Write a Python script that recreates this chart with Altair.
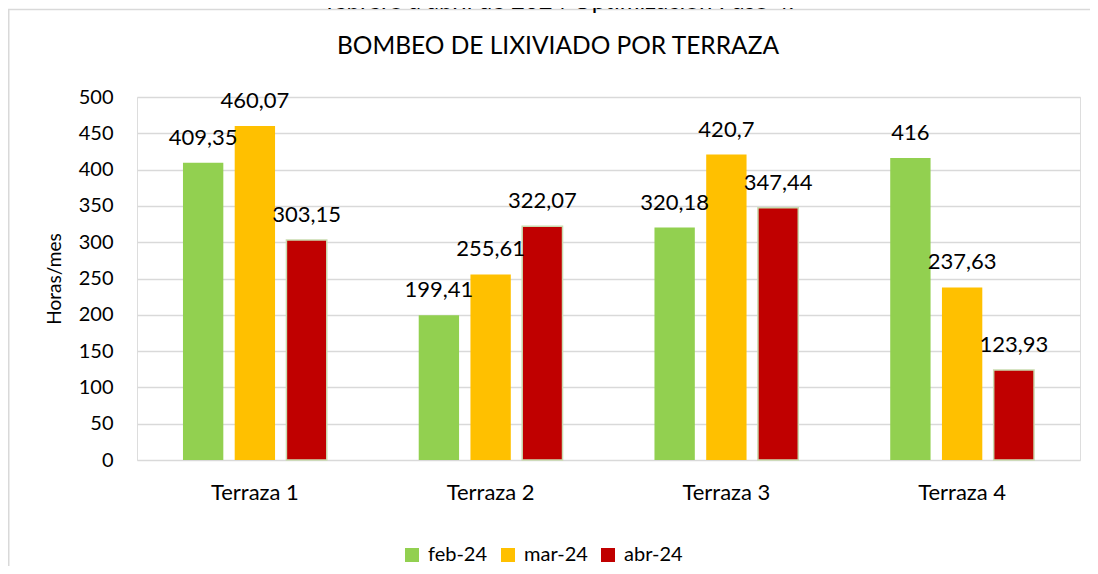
import altair as alt
import pandas as pd

terrazas = ["Terraza 1", "Terraza 2", "Terraza 3", "Terraza 4"]
meses = ["feb-24", "mar-24", "abr-24"]
feb = [409.35, 199.41, 320.18, 416]
mar = [460.07, 255.61, 420.7, 237.63]
abr = [303.15, 322.07, 347.44, 123.93]
colores = ["#92d050", "#ffc000", "#c00000"]
y_ticks = list(range(0, 501, 50))
titulo = "BOMBEO DE LIXIVIADO POR TERRAZA"
subtitulo = "febrero a abril de 2024 Optimización Paso 4."
eje_y = "Horas/mes"

rows = []
for mes, serie in zip(meses, [feb, mar, abr]):
    for t, v in zip(terrazas, serie):
        rows.append({"Terraza": t, "Mes": mes, "Horas": v,
                     "Etiqueta": f"{v:g}".replace(".", ",")})
df = pd.DataFrame(rows)

W, H = 943, 363
PL, PT, PR, PB = 129, 89, 10, 106
FONT = "Lato"

x = alt.X("Terraza:N", sort=terrazas, title=None,
          scale=alt.Scale(paddingInner=0.39, paddingOuter=0.195),
          axis=alt.Axis(labelAngle=0, labelFontSize=22, labelPadding=22, ticks=False,
                        domain=False, labelColor="#000", labelFont=FONT))
xo = alt.XOffset("Mes:N", sort=meses, scale=alt.Scale(paddingInner=0.22, paddingOuter=0))
y = alt.Y("Horas:Q", scale=alt.Scale(domain=[0, 500], nice=False),
          axis=alt.Axis(values=y_ticks, title=eje_y, titleFontSize=19, titleFont=FONT,
                        titleFontWeight="normal", titleColor="#000", titlePadding=14,
                        labelFontSize=20, labelFont=FONT, labelColor="#000", labelPadding=24,
                        ticks=False, domain=False, grid=True, gridColor="#d9d9d9",
                        gridWidth=1.6))

base = alt.Chart(df)

bars = base.mark_bar(strokeWidth=1.5).encode(
    x=x, xOffset=xo, y=y,
    color=alt.Color("Mes:N", sort=meses,
                    scale=alt.Scale(domain=meses, range=colores),
                    legend=alt.Legend(title=None, orient="none", legendX=265, legendY=448,
                                      direction="horizontal", symbolType="square",
                                      symbolSize=196, symbolStrokeWidth=0,
                                      labelFontSize=20, labelFont=FONT, labelColor="#000",
                                      labelOffset=6, columnPadding=10, padding=0)),
    stroke=alt.condition(alt.datum.Mes == "abr-24", alt.value("#c9dbb0"), alt.value("transparent")),
)

labels = base.mark_text(baseline="alphabetic", dy=-18, fontSize=22, font=FONT, color="#000").encode(
    x=x, xOffset=xo, y=y, text="Etiqueta:N"
)

one = pd.DataFrame([{"t": titulo, "s": subtitulo}])

title_txt = alt.Chart(one).mark_text(fontSize=24.5, font=FONT, color="#000", baseline="middle").encode(
    x=alt.value(421), y=alt.value(-50), text="t:N"
)
sub_txt = alt.Chart(one).mark_text(fontSize=24, font=FONT, color="#000", baseline="alphabetic").encode(
    x=alt.value(423), y=alt.value(-PT + 1), text="s:N"
)
frame_top = alt.Chart(one).mark_rule(color="#d9d9d9", strokeWidth=1.5).encode(
    x=alt.value(-PL), x2=alt.value(W + PR), y=alt.value(-PT + 1.5)
)
frame_left = alt.Chart(one).mark_rule(color="#d9d9d9", strokeWidth=1.5).encode(
    x=alt.value(-PL + 0.75), y=alt.value(-PT + 1.5), y2=alt.value(H + PB)
)

chart = alt.layer(frame_top, frame_left, bars, labels, title_txt, sub_txt).properties(
    width=W, height=H,
    padding={"left": PL, "top": PT, "right": PR, "bottom": PB},
    autosize=alt.AutoSizeParams(type="none"),
).configure_view(stroke=None).configure(background="white")

chart.save("out.html", embed_options={"renderer": "svg", "actions": False})
